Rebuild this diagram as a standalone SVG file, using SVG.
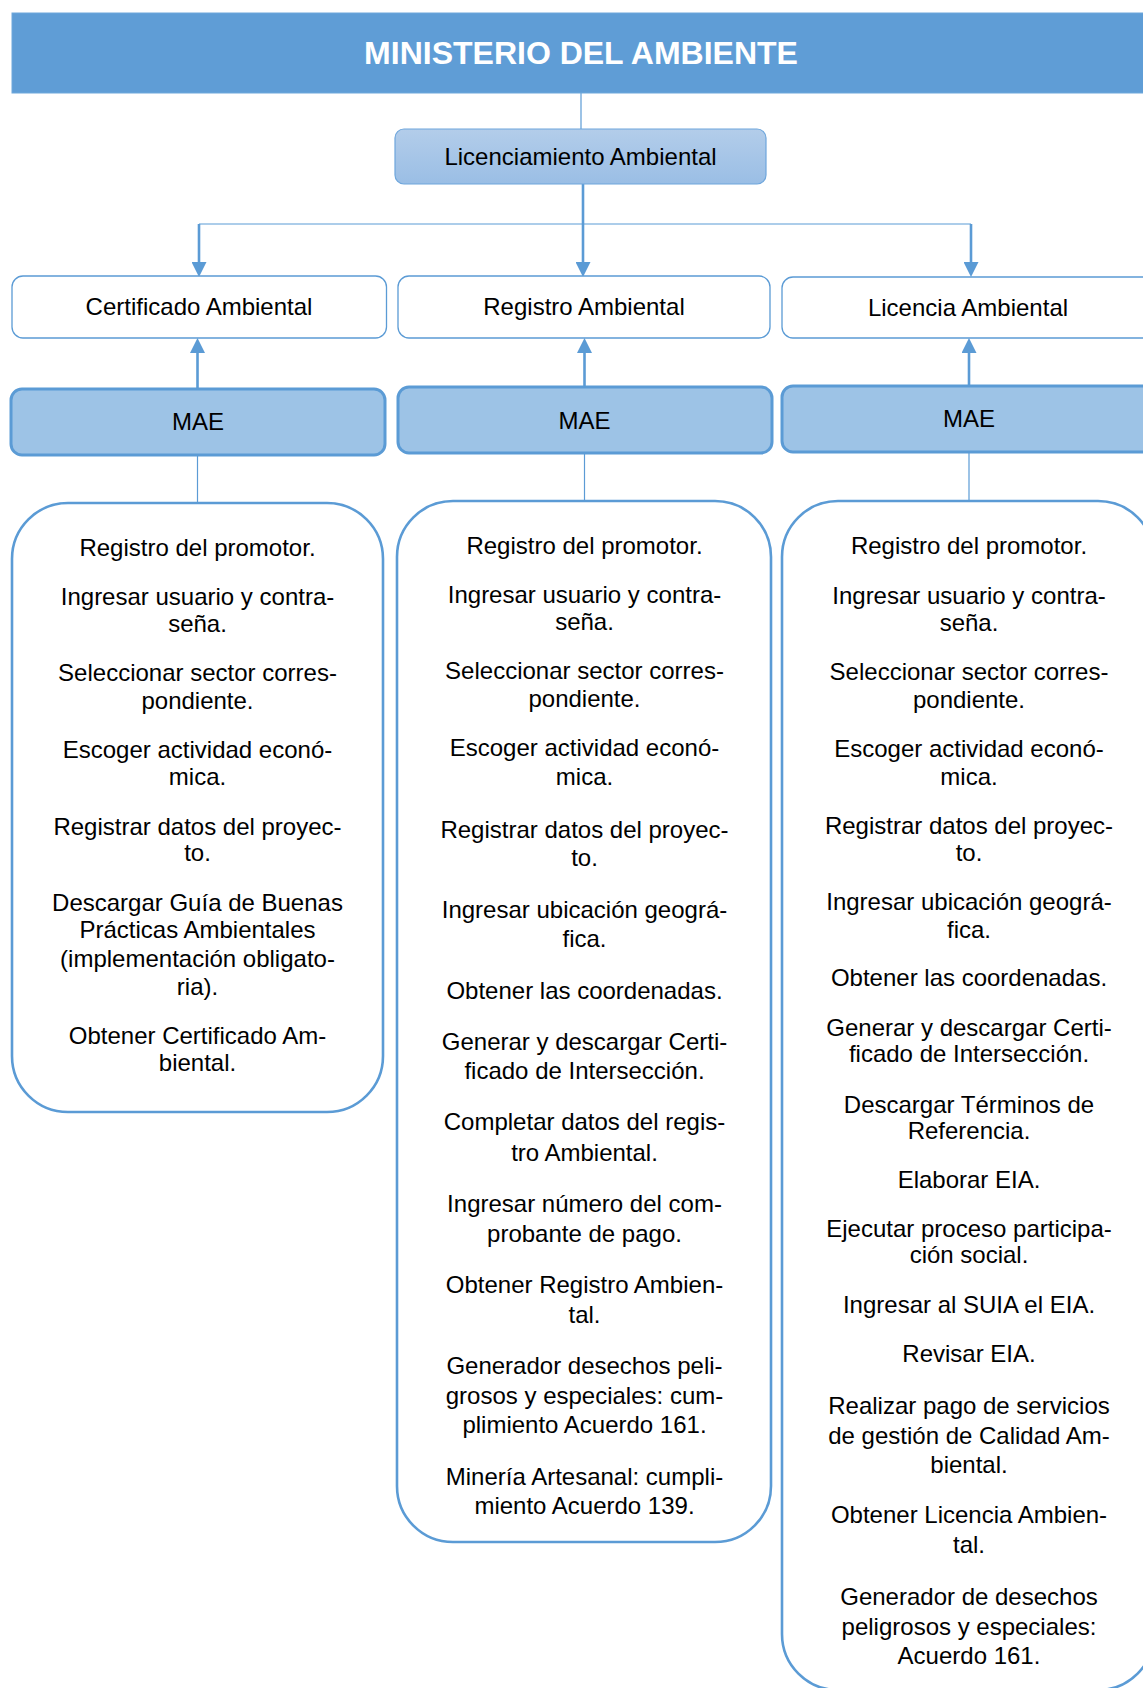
<svg xmlns="http://www.w3.org/2000/svg" width="1143" height="1688" viewBox="0 0 1143 1688">
<style>
text{font-family:"Liberation Sans",Arial,sans-serif;fill:#000;text-anchor:middle}
.t{font-size:24px}
.title{font-size:32px;font-weight:bold;fill:#fff}
.box{fill:#fff;stroke:#5B9BD5;stroke-width:1.3}
.mae{fill:#9DC3E6;stroke:#5B9BD5;stroke-width:3}
.content{fill:#fff;stroke:#5B9BD5;stroke-width:2.6}
.thin{stroke:#5B9BD5;stroke-width:1.2;fill:none}
.thick{stroke:#5B9BD5;stroke-width:2.6;fill:none}
</style>
<defs>
<linearGradient id="lg" x1="0" y1="0" x2="0" y2="1">
<stop offset="0" stop-color="#B3CDEA"/>
<stop offset="1" stop-color="#9ABEE5"/>
</linearGradient>
<marker id="ah" viewBox="0 0 10 10" refX="0" refY="5" markerWidth="15" markerHeight="15" markerUnits="userSpaceOnUse" orient="auto">
<path d="M0,0 L10,5 L0,10 z" fill="#5B9BD5"/>
</marker>
</defs>

<g id="connectors">
<line class="thin" x1="581" y1="93" x2="581" y2="129"/>
<line class="thin" x1="199" y1="224" x2="971" y2="224"/>
<line class="thick" x1="199" y1="224" x2="199" y2="262" marker-end="url(#ah)"/>
<line class="thick" x1="583" y1="184" x2="583" y2="262" marker-end="url(#ah)"/>
<line class="thick" x1="971" y1="224" x2="971" y2="262" marker-end="url(#ah)"/>
<line class="thick" x1="197.5" y1="389" x2="197.5" y2="353" marker-end="url(#ah)"/>
<line class="thick" x1="584.5" y1="387" x2="584.5" y2="353" marker-end="url(#ah)"/>
<line class="thick" x1="969" y1="386" x2="969" y2="353" marker-end="url(#ah)"/>
<line class="thin" x1="197.5" y1="455" x2="197.5" y2="503"/>
<line class="thin" x1="584.5" y1="453" x2="584.5" y2="501"/>
<line class="thin" x1="969" y1="452" x2="969" y2="501"/>
</g>

<g id="header">
<rect x="12" y="13" width="1140" height="80" fill="#5F9DD6" stroke="#6FA8DC" stroke-width="1"/>
<text class="title" x="581" y="63.5">MINISTERIO DEL AMBIENTE</text>
</g>

<g id="licenciamiento">
<rect x="395" y="129" width="371" height="55" rx="9" fill="url(#lg)" stroke="#6EA6DC" stroke-width="1.2"/>
<text class="t" x="580.5" y="165">Licenciamiento Ambiental</text>
</g>

<g id="certificado">
<rect class="box" x="12" y="276" width="374.5" height="62" rx="11"/>
<text class="t" x="199" y="315">Certificado Ambiental</text>
</g>
<g id="registro">
<rect class="box" x="398" y="276" width="372" height="62" rx="11"/>
<text class="t" x="584" y="315">Registro Ambiental</text>
</g>
<g id="licencia">
<rect class="box" x="782" y="277" width="372" height="61" rx="11"/>
<text class="t" x="968" y="315.5">Licencia Ambiental</text>
</g>

<g id="mae1">
<rect class="mae" x="11" y="389" width="374" height="66" rx="11"/>
<text class="t" x="198" y="430">MAE</text>
</g>
<g id="mae2">
<rect class="mae" x="398" y="387" width="374" height="66" rx="11"/>
<text class="t" x="584.5" y="428.5">MAE</text>
</g>
<g id="mae3">
<rect class="mae" x="782" y="386" width="374" height="66" rx="11"/>
<text class="t" x="969" y="427">MAE</text>
</g>

<g id="pasos-certificado">
<rect class="content" x="12" y="503" width="371" height="609" rx="56"/>
<text class="t" x="197.5" y="555.5">Registro del promotor.</text>
<text class="t" x="197.5" y="604.5">Ingresar usuario y contra-</text>
<text class="t" x="197.5" y="631.5">seña.</text>
<text class="t" x="197.5" y="680.5">Seleccionar sector corres-</text>
<text class="t" x="197.5" y="708.5">pondiente.</text>
<text class="t" x="197.5" y="757.5">Escoger actividad econó-</text>
<text class="t" x="197.5" y="784.5">mica.</text>
<text class="t" x="197.5" y="834.5">Registrar datos del proyec-</text>
<text class="t" x="197.5" y="860.5">to.</text>
<text class="t" x="197.5" y="910.5">Descargar Guía de Buenas</text>
<text class="t" x="197.5" y="937.5">Prácticas Ambientales</text>
<text class="t" x="197.5" y="966.5">(implementación obligato-</text>
<text class="t" x="197.5" y="994.5">ria).</text>
<text class="t" x="197.5" y="1043.5">Obtener Certificado Am-</text>
<text class="t" x="197.5" y="1070.5">biental.</text>
</g>

<g id="pasos-registro">
<rect class="content" x="397" y="501" width="374" height="1041" rx="56"/>
<text class="t" x="584.5" y="554">Registro del promotor.</text>
<text class="t" x="584.5" y="602.5">Ingresar usuario y contra-</text>
<text class="t" x="584.5" y="629.5">seña.</text>
<text class="t" x="584.5" y="678.5">Seleccionar sector corres-</text>
<text class="t" x="584.5" y="706.5">pondiente.</text>
<text class="t" x="584.5" y="755.5">Escoger actividad econó-</text>
<text class="t" x="584.5" y="784.5">mica.</text>
<text class="t" x="584.5" y="837.5">Registrar datos del proyec-</text>
<text class="t" x="584.5" y="865.5">to.</text>
<text class="t" x="584.5" y="917.5">Ingresar ubicación geográ-</text>
<text class="t" x="584.5" y="946.5">fica.</text>
<text class="t" x="584.5" y="998.5">Obtener las coordenadas.</text>
<text class="t" x="584.5" y="1049.5">Generar y descargar Certi-</text>
<text class="t" x="584.5" y="1078.5">ficado de Intersección.</text>
<text class="t" x="584.5" y="1129.5">Completar datos del regis-</text>
<text class="t" x="584.5" y="1160.5">tro Ambiental.</text>
<text class="t" x="584.5" y="1211.5">Ingresar número del com-</text>
<text class="t" x="584.5" y="1241.5">probante de pago.</text>
<text class="t" x="584.5" y="1292.5">Obtener Registro Ambien-</text>
<text class="t" x="584.5" y="1322.5">tal.</text>
<text class="t" x="584.5" y="1373.5">Generador desechos peli-</text>
<text class="t" x="584.5" y="1403.5">grosos y especiales: cum-</text>
<text class="t" x="584.5" y="1432.5">plimiento Acuerdo 161.</text>
<text class="t" x="584.5" y="1484.5">Minería Artesanal: cumpli-</text>
<text class="t" x="584.5" y="1513.5">miento Acuerdo 139.</text>
</g>

<g id="pasos-licencia">
<rect class="content" x="782" y="501" width="372" height="1189" rx="56"/>
<text class="t" x="969" y="554">Registro del promotor.</text>
<text class="t" x="969" y="604">Ingresar usuario y contra-</text>
<text class="t" x="969" y="630.5">seña.</text>
<text class="t" x="969" y="679.5">Seleccionar sector corres-</text>
<text class="t" x="969" y="707.5">pondiente.</text>
<text class="t" x="969" y="756.5">Escoger actividad econó-</text>
<text class="t" x="969" y="784.5">mica.</text>
<text class="t" x="969" y="833.5">Registrar datos del proyec-</text>
<text class="t" x="969" y="860.5">to.</text>
<text class="t" x="969" y="909.5">Ingresar ubicación geográ-</text>
<text class="t" x="969" y="937.5">fica.</text>
<text class="t" x="969" y="986">Obtener las coordenadas.</text>
<text class="t" x="969" y="1035.5">Generar y descargar Certi-</text>
<text class="t" x="969" y="1061.5">ficado de Intersección.</text>
<text class="t" x="969" y="1112.5">Descargar Términos de</text>
<text class="t" x="969" y="1138.5">Referencia.</text>
<text class="t" x="969" y="1187.5">Elaborar EIA.</text>
<text class="t" x="969" y="1237">Ejecutar proceso participa-</text>
<text class="t" x="969" y="1263">ción social.</text>
<text class="t" x="969" y="1312.5">Ingresar al SUIA el EIA.</text>
<text class="t" x="969" y="1361.5">Revisar EIA.</text>
<text class="t" x="969" y="1413.5">Realizar pago de servicios</text>
<text class="t" x="969" y="1443.5">de gestión de Calidad Am-</text>
<text class="t" x="969" y="1472.5">biental.</text>
<text class="t" x="969" y="1523">Obtener Licencia Ambien-</text>
<text class="t" x="969" y="1553">tal.</text>
<text class="t" x="969" y="1604.5">Generador de desechos</text>
<text class="t" x="969" y="1635">peligrosos y especiales:</text>
<text class="t" x="969" y="1663.5">Acuerdo 161.</text>
</g>
</svg>
